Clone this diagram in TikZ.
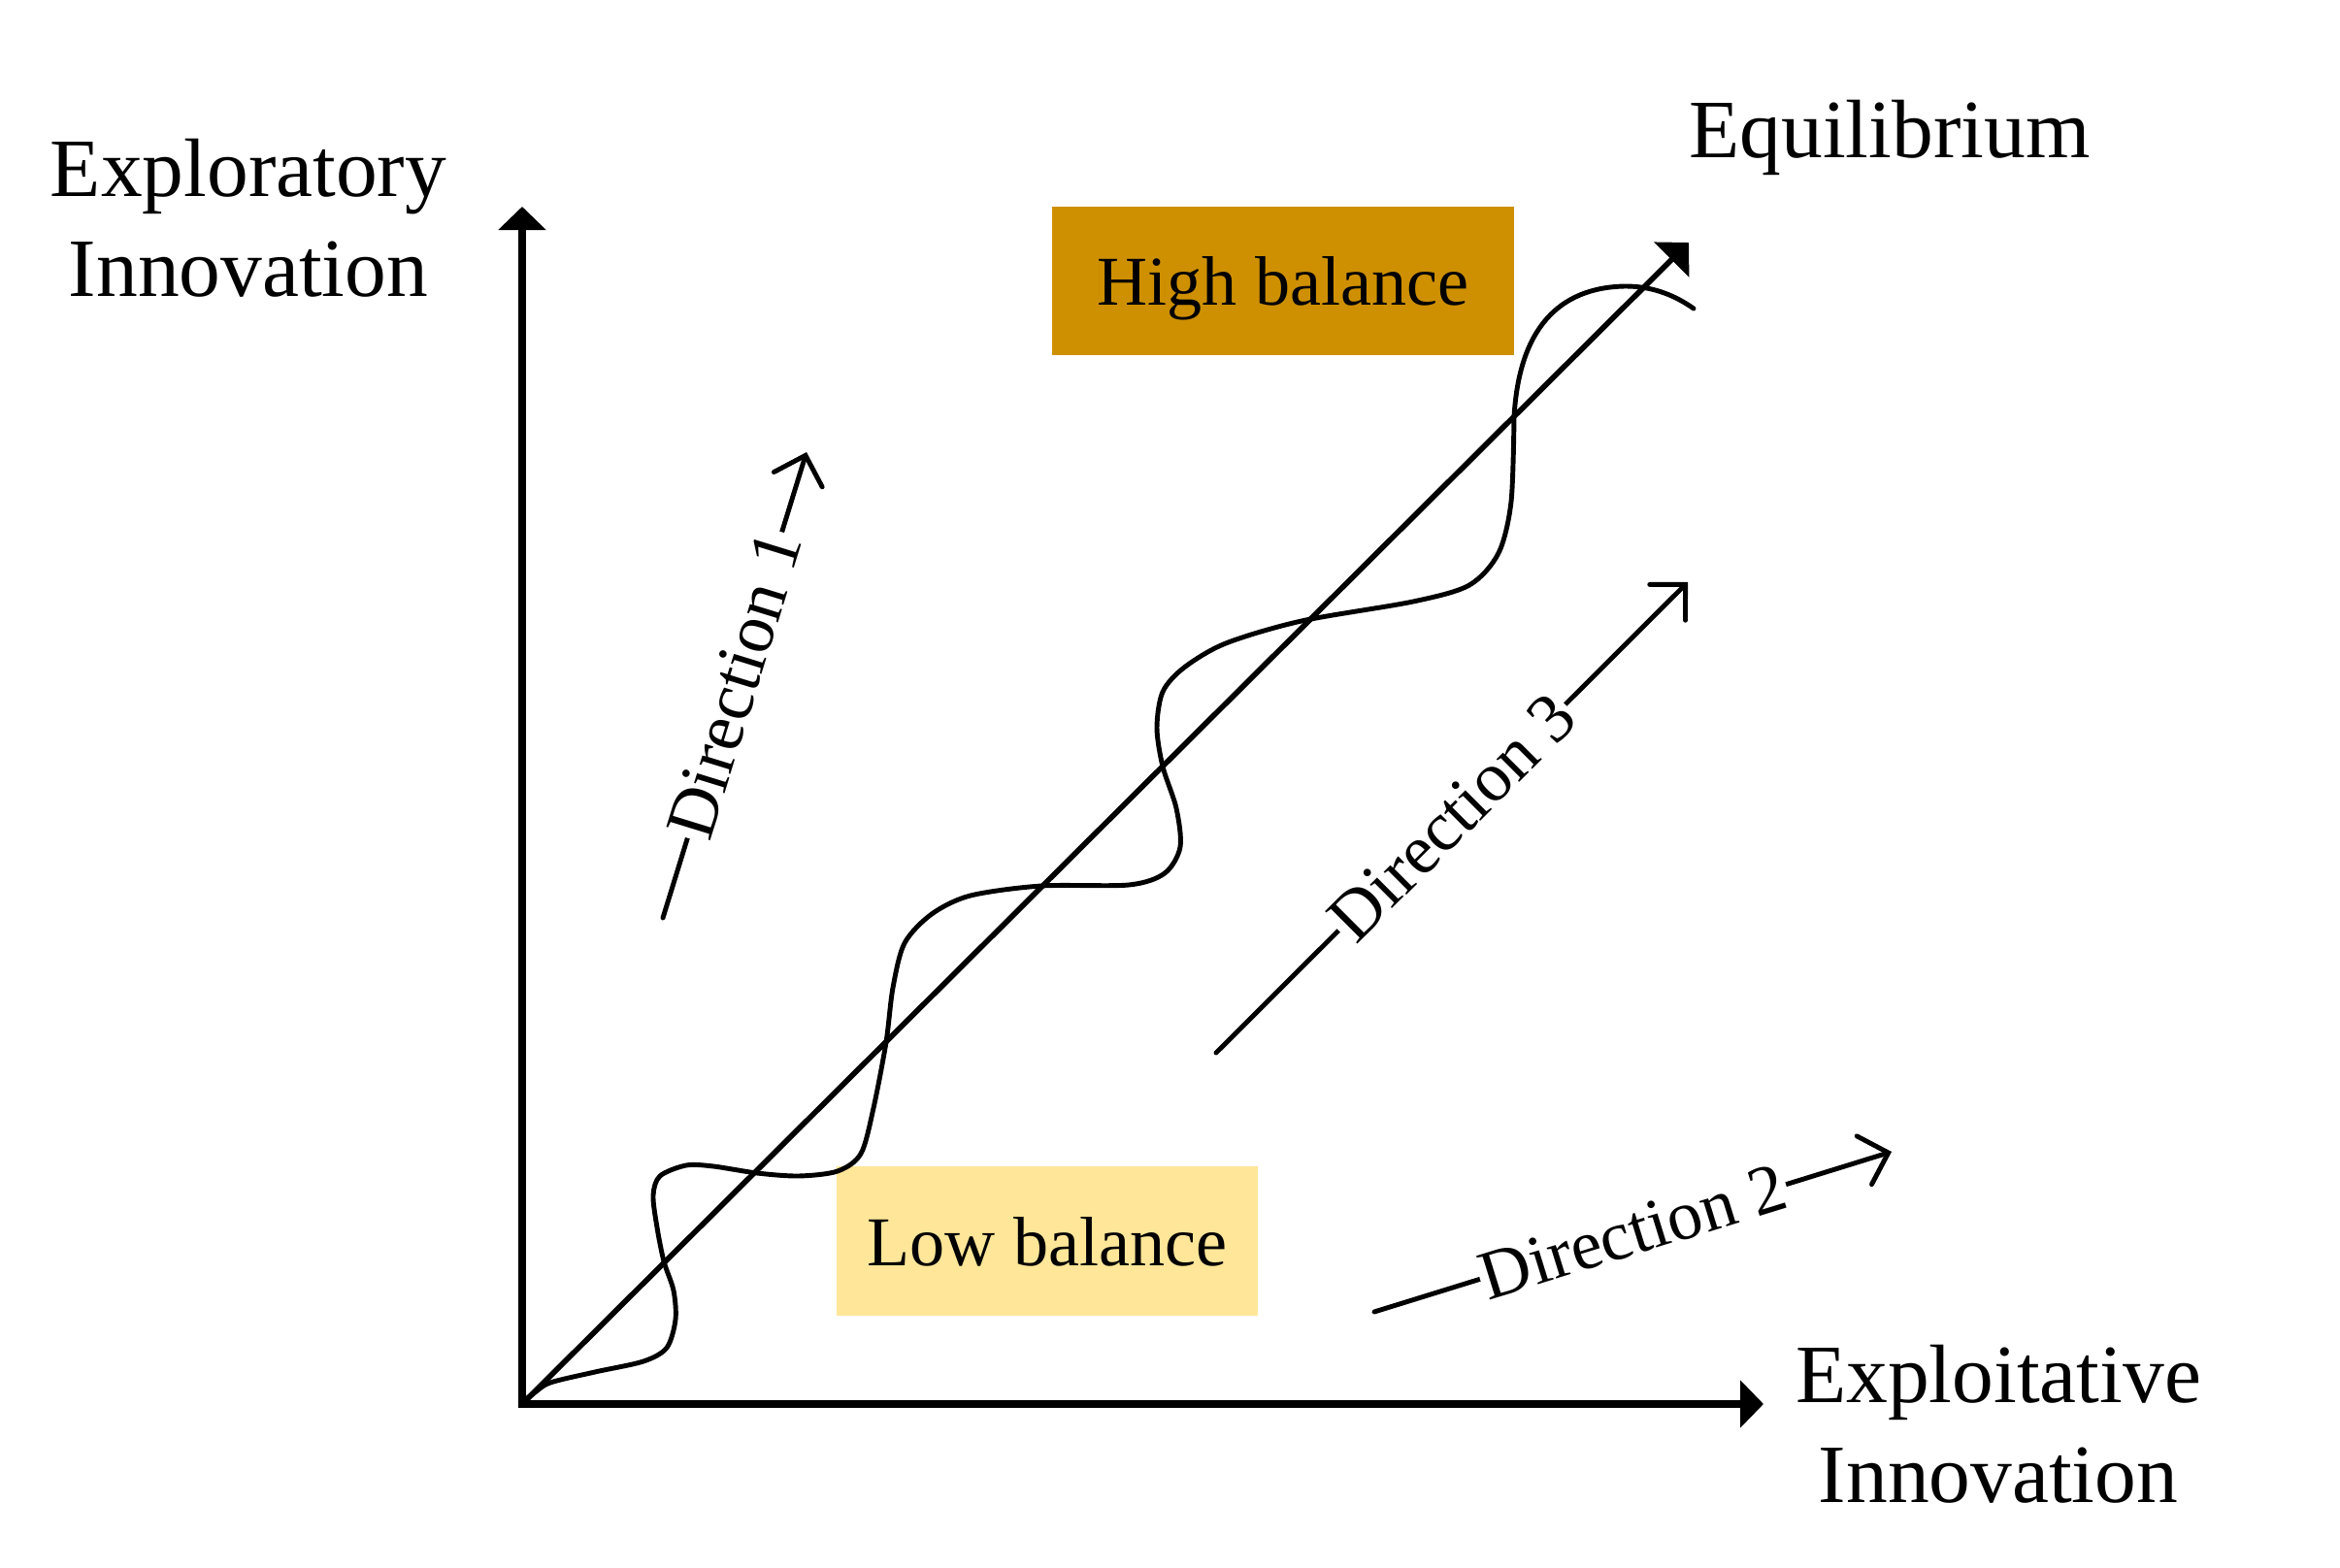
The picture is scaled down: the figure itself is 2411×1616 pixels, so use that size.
\documentclass[tikz,border=0pt]{standalone}
\usepackage{fontspec}
\setmainfont{Liberation Serif}
\usetikzlibrary{arrows.meta}
\definecolor{highgold}{RGB}{206,144,0}
\definecolor{lowgold}{RGB}{255,230,153}
\begin{document}
\begin{tikzpicture}[x=0.01cm,y=-0.01cm,
  axis/.style={line width=2pt,{Triangle[length=0.24cm,width=0.48cm]}-{Triangle[length=0.24cm,width=0.48cm]}},
  diag/.style={line width=1.6pt,-{Triangle[length=0.25cm,width=0.5cm]}},
  wave/.style={line width=1.4pt, line join=round, line cap=round},
  dirarrow/.style={line width=1.4pt, line cap=round, -{Straight Barb[length=0.26cm,width=0.52cm,line cap=round]}},
  dirlabel/.style={sloped, fill=white, inner xsep=0.5pt, inner ysep=1pt, font=\fontsize{20.5}{24}\selectfont},
  biglabel/.style={font=\fontsize{24.3}{29.3}\selectfont, align=center, inner sep=0pt},
  balbox/.style={inner sep=0pt, text depth=0pt, font=\fontsize{20.5}{24}\selectfont}
]
\useasboundingbox (0,0) rectangle (2411,1616);

% coordinates
\coordinate (O) at (538,1447);
\coordinate (ytop) at (538,213);
\coordinate (xend) at (1817,1447);
\coordinate (eq) at (1740,250);
\coordinate (d1s) at (683,946);
\coordinate (d1e) at (831,466);
\coordinate (d2s) at (1416,1352);
\coordinate (d2e) at (1949,1187);
\coordinate (d3s) at (1253,1085);
\coordinate (d3e) at (1739,600);

% direction arrows
\draw[dirarrow] (d1s) -- node[dirlabel] (dir1) {Direction 1} (d1e);
\draw[dirarrow] (d2s) -- node[dirlabel] (dir2) {Direction 2} (d2e);
\draw[dirarrow] (d3s) -- node[dirlabel] (dir3) {Direction 3} (d3e);

% balance boxes
\node[balbox, fill=highgold, minimum width=4.76cm, minimum height=1.53cm] (high) at (1322,289.5) {High balance};
\node[balbox, fill=lowgold, minimum width=4.33cm, minimum height=1.54cm] (low) at (1079,1279) {Low balance};

% axes
\draw[axis] (ytop) -- (O) -- (xend);

% labels
\node[biglabel] (ylab) at (256,225) {Exploratory\\Innovation};
\node[biglabel, anchor=base] (eqlab) at (1947,163) {Equilibrium};
\node[biglabel] (xlab) at (2059,1468) {Exploitative\\Innovation};

% diagonal
\draw[diag] (O) -- (eq);

% wave
\draw[wave] plot[smooth, tension=0.5] coordinates {
(538,1445) (550,1436) (567,1425) (613,1414) (663,1403) (687,1389)
(696,1360) (694,1330) (684,1300) (677,1265) (673,1232) (680,1212)
(707,1201) (735,1202) (780,1209) (823,1212) (863,1207) (887,1189)
(900,1142) (913,1074) (920,1018) (932,972) (960,942) (1000,923)
(1073,913) (1163,912) (1200,900) (1216,873) (1212,833) (1198,790)
(1192,750) (1198,713) (1220,688) (1263,663) (1341,640) (1456,620)
(1514,603) (1544,570) (1557,517) (1560,430)}
 .. controls (1565,340) and (1605,296) .. (1675,295)
 .. controls (1705,295) and (1728,306) .. (1745,318);
\end{tikzpicture}
\end{document}
